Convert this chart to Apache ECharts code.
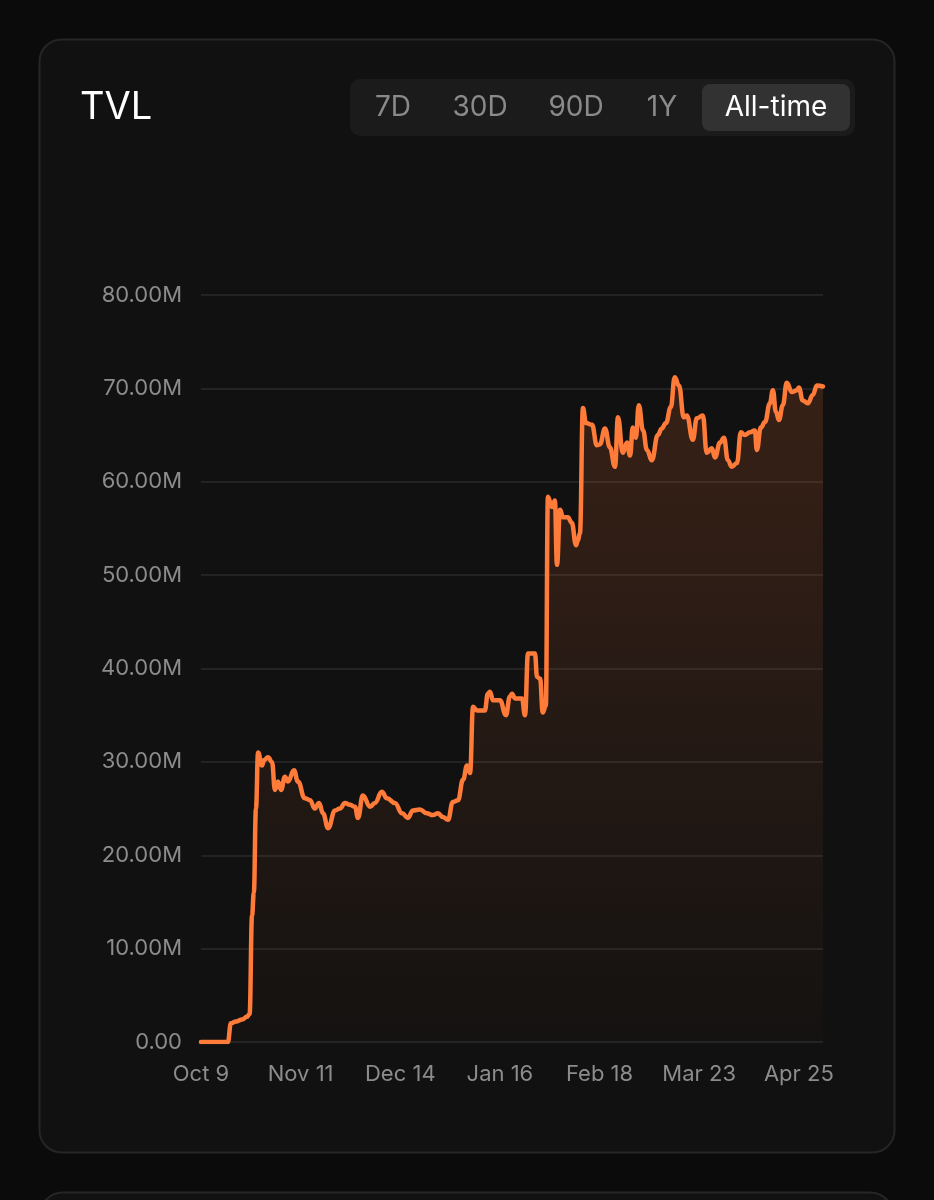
<!DOCTYPE html>
<html>
<head>
<meta charset="utf-8">
<script src="https://cdn.jsdelivr.net/npm/echarts@6/dist/echarts.min.js"></script>
<style>
  html, body { margin: 0; padding: 0; background: #0b0b0b; }
  #chart { width: 934px; height: 1200px; }
</style>
</head>
<body>
<div id="chart"></div>
<script>
// X tick labels (every 33 days starting Oct 9)
const xLabels = ['Oct 9', 'Nov 11', 'Dec 14', 'Jan 16', 'Feb 18', 'Mar 23', 'Apr 25'];
const rangeButtons = ['7D', '30D', '90D', '1Y', 'All-time'];
// days since Oct 9
const days = [0, 8.9, 9.9, 11.6, 13.6, 15.2, 16.1, 16.9, 17.5, 18.2, 18.9, 20.2, 20.9, 22.2, 23.5, 24.5, 25.5, 26.5, 27.8, 28.8,
  30.8, 32.1, 34.4, 36.1, 37.7, 39.1, 40.4, 42.1, 44.4, 46.0, 47.7, 49.3, 51.0, 52.0, 53.6, 56.0, 57.6, 59.9, 61.6, 64.2,
  66.6, 68.5, 70.2, 72.5, 74.8, 76.8, 78.5, 80.1, 81.8, 83.4, 85.1, 86.8, 88.1, 89.1, 90.1, 91.4, 94.0, 95.0, 95.7, 96.7,
  99.0, 101.0, 102.3, 103.0, 104.0, 106.3, 107.3, 108.3, 110.6, 111.3, 112.3, 113.2, 114.2, 114.9, 116.2, 117.2, 117.9, 118.9, 119.9, 121.5,
  122.8, 124.2, 124.8, 125.5, 126.5, 127.5, 129.5, 131.1, 132.1, 133.8, 135.4, 137.1, 138.1, 139.7, 141.1, 142.1, 143.0, 144.0, 145.0, 146.4,
  147.7, 149.3, 151.3, 152.6, 154.0, 155.6, 156.9, 158.3, 159.9, 160.9, 162.9, 164.2, 166.2, 167.5, 169.2, 170.2, 171.9, 173.2, 174.5, 175.8,
  177.5, 178.8, 180.1, 181.8, 183.4, 184.1, 185.4, 186.8, 188.4, 189.4, 190.4, 191.4, 192.7, 194.0, 195.7, 197.4, 198.0, 199.3, 201.0, 202.6,
  204.0, 206.0];
// TVL in millions
const tvl = [0, 0, 2.0, 2.2, 2.4, 2.7, 3.0, 13.5, 16.0, 25.0, 31.0, 29.6, 30.2, 30.5, 30.0, 27.0, 27.9, 27.0, 28.4, 27.9,
  29.1, 27.9, 26.1, 25.9, 25.0, 25.6, 24.5, 22.9, 24.8, 25.0, 25.6, 25.4, 25.2, 24.0, 26.4, 25.2, 25.6, 26.8, 26.1, 25.6,
  24.5, 24.0, 24.8, 24.9, 24.5, 24.3, 24.5, 24.1, 23.8, 25.7, 25.9, 28.1, 29.6, 28.8, 35.9, 35.5, 35.5, 37.3, 37.5, 36.6,
  36.6, 35.0, 37.0, 37.3, 36.8, 36.8, 35.0, 41.6, 41.6, 39.1, 38.9, 35.3, 36.0, 58.4, 57.3, 58.0, 51.1, 57.0, 56.2, 56.2,
  55.6, 53.2, 53.7, 54.5, 67.9, 66.3, 66.1, 63.9, 64.0, 65.7, 63.7, 61.6, 66.9, 63.1, 64.2, 62.8, 65.8, 64.7, 68.2, 65.5,
  63.4, 62.3, 65.0, 65.7, 66.3, 68.0, 71.2, 70.3, 66.9, 67.1, 64.5, 66.8, 67.1, 63.1, 63.6, 62.6, 64.2, 64.7, 62.3, 61.6,
  62.0, 65.3, 65.0, 65.3, 65.5, 63.4, 65.8, 66.4, 68.4, 69.8, 67.5, 66.6, 68.2, 70.6, 69.6, 69.8, 70.1, 68.7, 68.4, 69.3,
  70.3, 70.2];

const seriesData = days.map((d, i) => [d, tvl[i]]);

const chart = echarts.init(document.getElementById('chart'), null, { renderer: 'canvas' });
const FONT = 'Inter, "Liberation Sans", Arial, sans-serif';

const btnX = [393, 480, 576, 662, 776];
const graphics = [
  { type: 'rect', z: -10, shape: { x: 39.5, y: 39.5, width: 855, height: 1113, r: 22 },
    style: { fill: '#111111', stroke: '#262626', lineWidth: 2 } },
  { type: 'rect', z: -10, shape: { x: 40.5, y: 1192.5, width: 852, height: 120, r: 22 },
    style: { fill: '#111111', stroke: '#262626', lineWidth: 2 } },
  { type: 'text', z: 5, style: { text: 'TVL', x: 80, y: 108, fill: '#ffffff', font: '400 38px ' + FONT, verticalAlign: 'middle', align: 'left' } },
  { type: 'rect', z: 1, shape: { x: 350, y: 79, width: 505, height: 57, r: 10 }, style: { fill: '#1b1b1b' } },
  { type: 'rect', z: 2, shape: { x: 702, y: 84, width: 148, height: 47, r: 8 }, style: { fill: '#323232' } }
];
rangeButtons.forEach((t, i) => {
  graphics.push({ type: 'text', z: 5, style: { text: t, x: btnX[i], y: 108, align: 'center', verticalAlign: 'middle',
    fill: i === rangeButtons.length - 1 ? '#ffffff' : '#8a8a8a', font: '400 28px ' + FONT } });
});

chart.setOption({
  backgroundColor: '#0b0b0b',
  animation: false,
  graphic: graphics,
  grid: { left: 201, right: 111, top: 295, bottom: 158, containLabel: false },
  xAxis: {
    type: 'value', min: 0, max: 206, interval: 33,
    axisLine: { show: false }, axisTick: { show: false }, splitLine: { show: false },
    axisLabel: {
      color: '#8c8c8c', fontSize: 22, fontFamily: FONT, margin: 21, showMaxLabel: false,
      formatter: v => (v % 33 === 0 && xLabels[v / 33] !== undefined) ? xLabels[v / 33] : ''
    }
  },
  yAxis: {
    type: 'value', min: 0, max: 80, interval: 10,
    axisLine: { show: false }, axisTick: { show: false },
    splitLine: { lineStyle: { color: '#2a2a2a', width: 1.5 } },
    axisLabel: {
      color: '#8c8c8c', fontSize: 22, fontFamily: FONT, margin: 19,
      formatter: v => v === 0 ? '0.00' : v.toFixed(2) + 'M'
    }
  },
  series: [{
    type: 'line',
    data: seriesData,
    showSymbol: false,
    smooth: 0.45,
    smoothMonotone: 'x',
    lineStyle: { color: '#ff7b39', width: 4.5, join: 'round', cap: 'round' },
    areaStyle: {
      color: new echarts.graphic.LinearGradient(0, 0, 0, 1, [
        { offset: 0, color: 'rgba(255,115,50,0.23)' },
        { offset: 1, color: 'rgba(255,115,50,0.02)' }
      ])
    }
  }]
});
</script>
</body>
</html>
